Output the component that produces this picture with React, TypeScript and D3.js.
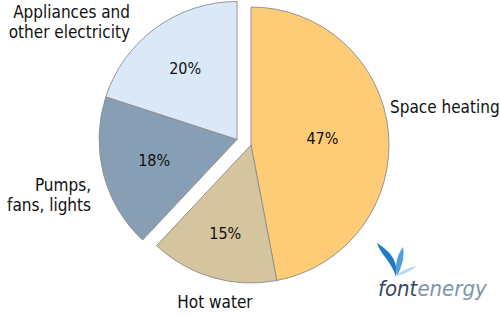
import React from "react";
import * as d3 from "d3";

const categories = ["Space heating", "Hot water", "Pumps, fans, lights", "Appliances and other electricity"];
const values = [47, 15, 18, 20];
const valueLabels = ["47%", "15%", "18%", "20%"];
const colors = ["#FECB77", "#D5C59E", "#879EB4", "#DAE8F7"];
const labelLines = [["Space heating"], ["Hot water"], ["Pumps,", "fans, lights"], ["Appliances and", "other electricity"]];

const W = 500;
const H = 316;
const CX = 251;
const CY = 145;
const R = 138;
const EXPLODE = 15;
const FONT = "'DejaVu Sans Condensed', 'DejaVu Sans', sans-serif";

export default function App() {
  React.useEffect(() => {
    document.body.style.margin = "0";
  }, []);

  const data = categories.map((c, i) => ({ name: c, value: values[i], i }));
  const pie = d3.pie<any>().sort(null).value((d: any) => d.value).startAngle(0);
  const arcs = pie(data);
  const arcGen = d3.arc<any>().innerRadius(0).outerRadius(R);

  // exploded group: pumps + appliances
  const gMid = (arcs[2].startAngle + arcs[3].endAngle) / 2;
  const ox = Math.sin(gMid) * EXPLODE;
  const oy = -Math.cos(gMid) * EXPLODE;
  const offsets = arcs.map((a, i) => (i >= 2 ? [ox, oy] : [0, 0]));
  const labelRatio = [0.52, 0.67, 0.62, 0.64];

  // outer label anchors: [x, y of first baseline, anchor]
  const outer: [number, number, string][] = [
    [390, 113, "start"],
    [215, 308, "middle"],
    [91, 191, "end"],
    [130, 18, "end"],
  ];

  return (
    <svg width={W} height={H} style={{ display: "block", background: "#fff" }}>
      <g transform={`translate(${CX},${CY})`}>
        {arcs.map((a, i) => (
          <path
            key={i}
            d={arcGen(a) as string}
            transform={`translate(${offsets[i][0]},${offsets[i][1]})`}
            fill={colors[i]}
            stroke="#8c8c8c"
            strokeWidth={0.9}
          />
        ))}
        {arcs.map((a, i) => {
          const m = (a.startAngle + a.endAngle) / 2;
          const rr = R * labelRatio[i];
          const x = Math.sin(m) * rr + offsets[i][0];
          const y = -Math.cos(m) * rr + offsets[i][1];
          return (
            <text
              key={i}
              x={x}
              y={y}
              dy="0.35em"
              textAnchor="middle"
              fontFamily={FONT}
              fontSize={16}
              fill="#111"
            >
              {valueLabels[i]}
            </text>
          );
        })}
      </g>
      {labelLines.map((lines, i) => (
        <text
          key={i}
          x={outer[i][0]}
          y={outer[i][1]}
          textAnchor={outer[i][2] as any}
          fontFamily={FONT}
          fontSize={17}
          fill="#111"
        >
          {lines.map((l, j) => (
            <tspan key={j} x={outer[i][0]} dy={j === 0 ? 0 : 20}>
              {l}
            </tspan>
          ))}
        </text>
      ))}
      {/* logo */}
      <g>
        <path d="M396,277 C392,262 380,254 377,243 C387,250 399,258 396,277 Z" fill="#1D7CC4" />
        <path d="M397,276 C394,264 398,254 403,247 C405,258 401,268 397,276 Z" fill="#4F9FD9" />
        <path d="M396,276 C402,270 410,267 417,266 C411,271 403,275 396,276 Z" fill="#B9D9F1" />
        <text x={378} y={296} fontFamily={FONT} fontStyle="italic" fontSize={22} fill="#34495E">
          font<tspan fill="#7D94AD">energy</tspan>
        </text>
      </g>
    </svg>
  );
}
